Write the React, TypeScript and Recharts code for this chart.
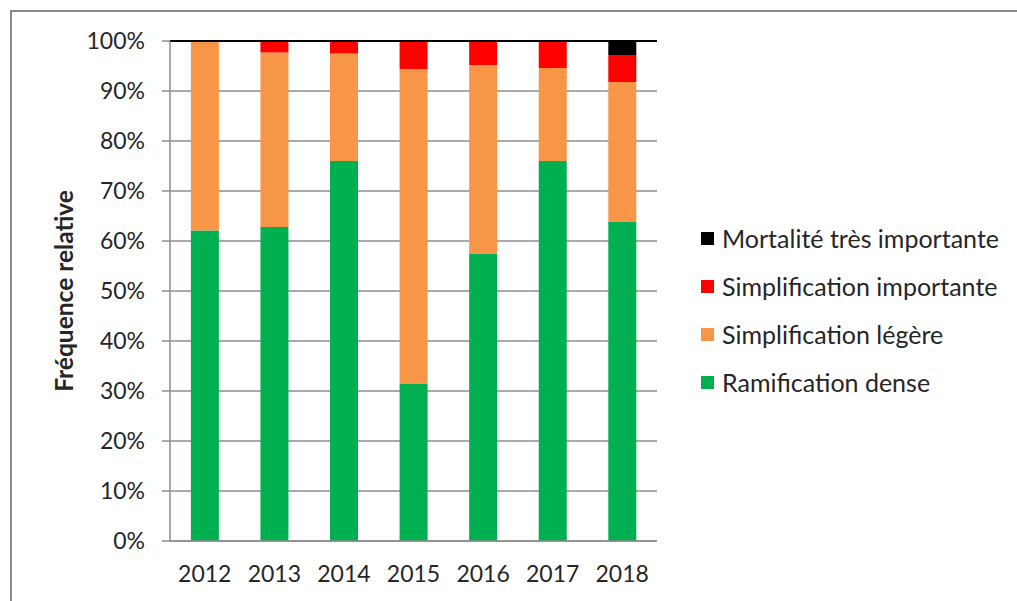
import React from "react";
import {
  Bar,
  BarChart,
  CartesianGrid,
  Legend,
  ReferenceLine,
  XAxis,
  YAxis,
} from "recharts";

const years = ["2012", "2013", "2014", "2015", "2016", "2017", "2018"];
const ramificationDense = [62.1, 62.8, 76.0, 31.5, 57.5, 76.0, 63.9];
const simplificationLegere = [37.9, 34.9, 21.5, 62.9, 37.7, 18.6, 27.9];
const simplificationImportante = [0, 2.3, 2.5, 5.6, 4.8, 5.4, 5.4];
const mortaliteTresImportante = [0, 0, 0, 0, 0, 0, 2.8];
const yTicks = [0, 10, 20, 30, 40, 50, 60, 70, 80, 90, 100];
const boundaryTicks = [0, 1, 2, 3, 4, 5, 6, 7];

const series = [
  { key: "dense", name: "Ramification dense", color: "#00B050" },
  { key: "legere", name: "Simplification légère", color: "#F79646" },
  { key: "importante", name: "Simplification importante", color: "#FF0000" },
  { key: "mortalite", name: "Mortalité très importante", color: "#000000" },
];

const data = years.map((year, i) => ({
  year,
  pos: i + 0.5,
  dense: ramificationDense[i],
  legere: simplificationLegere[i],
  importante: simplificationImportante[i],
  mortalite: mortaliteTresImportante[i],
}));

const FONT = "Lato, 'Liberation Sans', sans-serif";
const TEXT = "#262626";
const GRID = "#8c8c8c";

function LegendBox() {
  return (
    <div style={{ fontFamily: FONT, color: TEXT }}>
      {[...series].reverse().map((s) => (
        <div
          key={s.key}
          style={{ display: "flex", alignItems: "center", height: 48 }}
        >
          <span
            style={{
              display: "inline-block",
              width: 13,
              height: 13,
              background: s.color,
              marginRight: 8,
            }}
          />
          <span style={{ fontSize: 25, whiteSpace: "nowrap" }}>{s.name}</span>
        </div>
      ))}
    </div>
  );
}

function YLabel(props: any) {
  const vb = props.viewBox || {};
  const cy = (vb.y || 41) + (vb.height || 500) / 2;
  return (
    <text
      x={63}
      y={cy}
      transform={`rotate(-90, 63, ${cy})`}
      textAnchor="middle"
      dominantBaseline="central"
      fontFamily={FONT}
      fontWeight="bold"
      fontSize={24.5}
      fill={TEXT}
    >
      Fréquence relative
    </text>
  );
}

export default function App() {
  return (
    <div
      style={{
        position: "absolute",
        left: 0,
        top: 0,
        width: 1017,
        height: 601,
        background: "#fff",
        overflow: "hidden",
      }}
    >
      <div
        style={{
          position: "absolute",
          left: 10,
          top: 10,
          right: -10,
          bottom: -10,
          borderTop: "2px solid #8a8a8a",
          borderLeft: "2px solid #8a8a8a",
        }}
      />
      <BarChart
        width={1017}
        height={601}
        data={data}
        margin={{ top: 41, right: 360, bottom: 58, left: 0 }}
        barCategoryGap="30%"
      >
        <CartesianGrid vertical={false} stroke={GRID} strokeWidth={1.5} />
        <XAxis
          xAxisId="cat"
          dataKey="year"
          height={1}
          axisLine={false}
          tickLine={false}
          tickSize={0}
          tickMargin={24}
          tick={{ fill: TEXT, fontSize: 23, fontFamily: FONT }}
          interval={0}
        />
        <XAxis
          xAxisId="bounds"
          dataKey="pos"
          type="number"
          domain={[0, 7]}
          ticks={boundaryTicks}
          interval={0}
          allowDataOverflow
          height={1}
          tick={false}
          tickSize={9}
          axisLine={{ stroke: GRID, strokeWidth: 1.5 }}
          tickLine={{ stroke: GRID, strokeWidth: 1.5 }}
        />
        <YAxis
          width={170}
          domain={[0, 100]}
          ticks={yTicks}
          interval={0}
          tickFormatter={(v) => `${v}%`}
          tickSize={8}
          tickMargin={17}
          tick={{ fill: TEXT, fontSize: 23, fontFamily: FONT }}
          axisLine={{ stroke: GRID, strokeWidth: 1.5 }}
          tickLine={{ stroke: GRID, strokeWidth: 1.5 }}
          label={{ content: (p: any) => <YLabel {...p} /> }}
        />
        <YAxis
          yAxisId="right"
          orientation="right"
          width={0}
          domain={[0, 100]}
          tick={false}
          tickLine={false}
          axisLine={{ stroke: "#000", strokeWidth: 2 }}
        />
        <ReferenceLine y={100} stroke="#000" strokeWidth={2} />
        {series.map((s) => (
          <Bar
            key={s.key}
            xAxisId="cat"
            dataKey={s.key}
            name={s.name}
            stackId="a"
            fill={s.color}
            isAnimationActive={false}
          />
        ))}
        <Legend
          layout="horizontal"
          verticalAlign="middle"
          align="center"
          content={() => <LegendBox />}
          wrapperStyle={{ position: "absolute", left: 701, top: 214, width: 316 }}
        />
      </BarChart>
    </div>
  );
}
